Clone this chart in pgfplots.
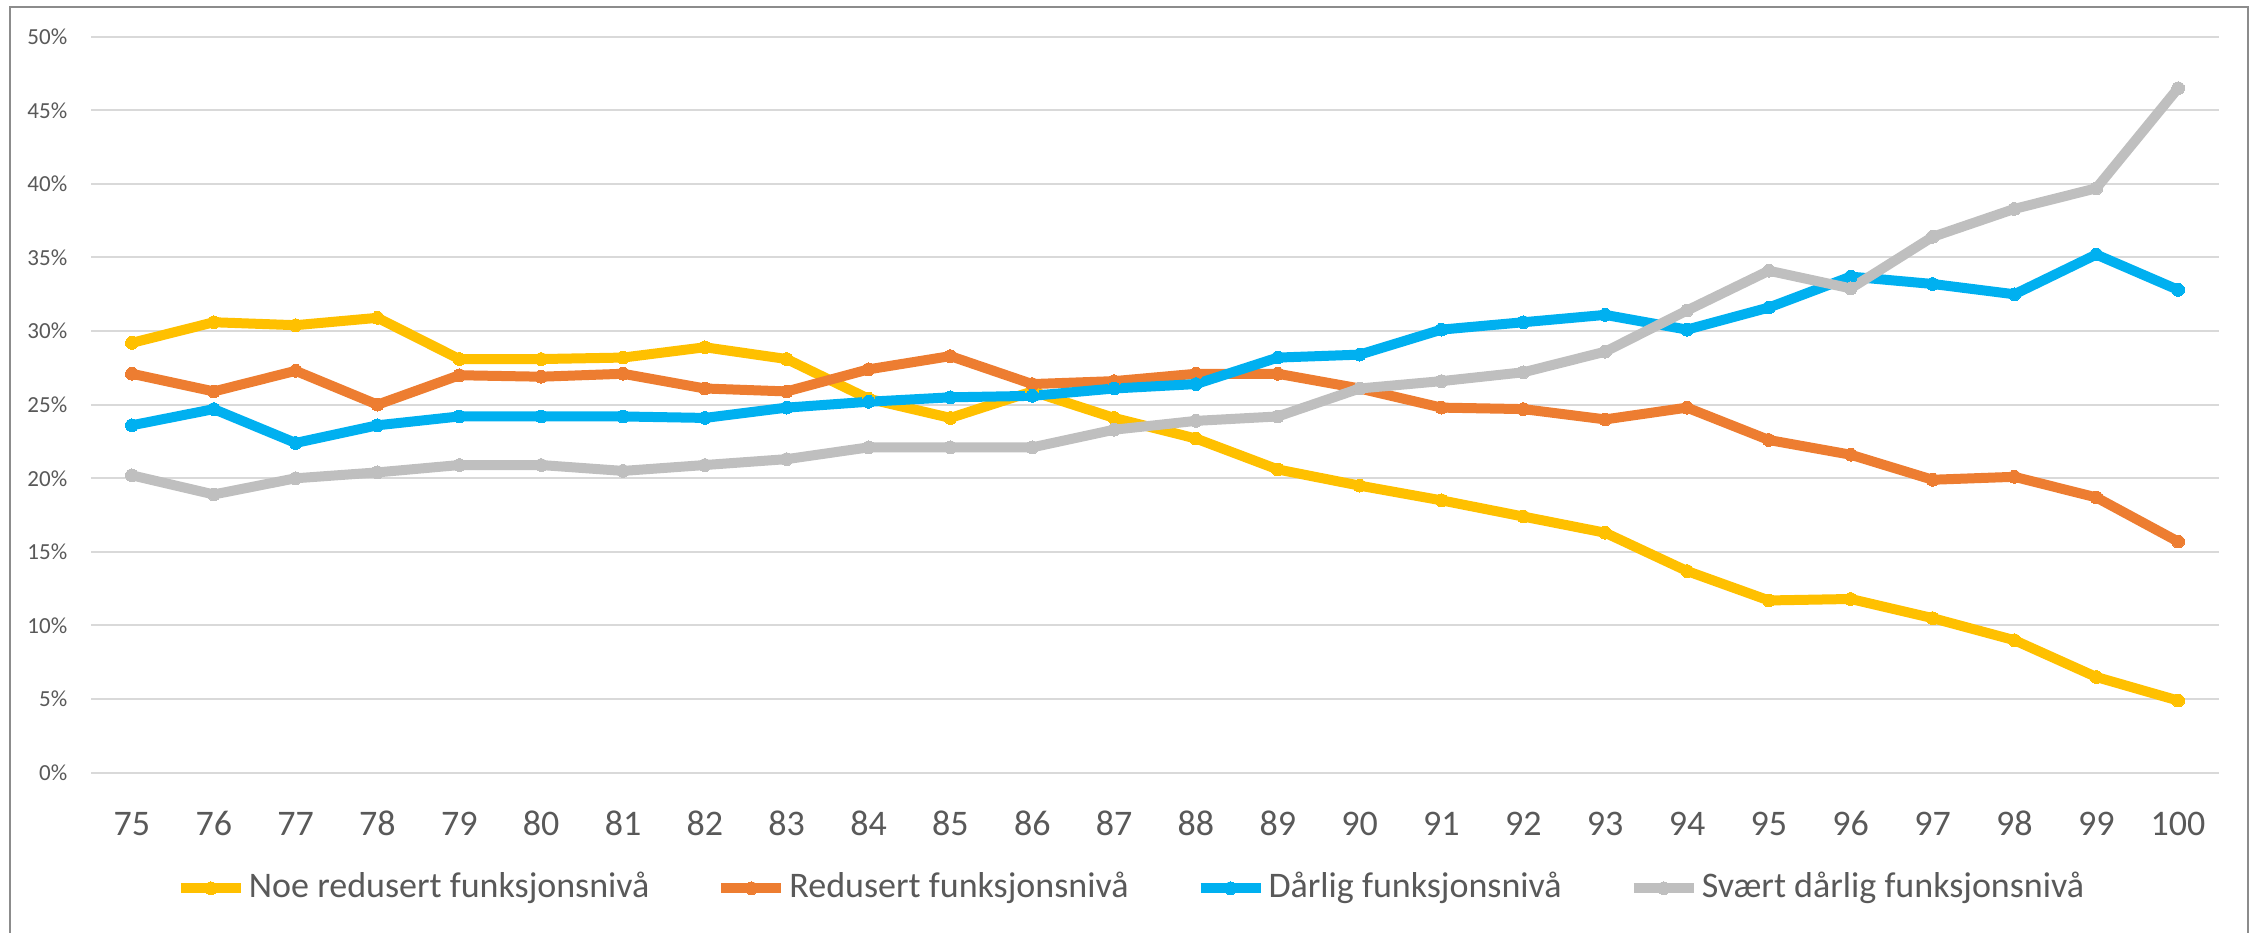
\documentclass[border=0pt]{standalone}
\usepackage{fontspec}
\setmainfont{Carlito}
\usepackage{pgfplots}
\usepackage{pgfplotstable}
\pgfplotsset{compat=1.18}
\definecolor{cyel}{HTML}{FFC000}
\definecolor{cora}{HTML}{ED7D31}
\definecolor{cblu}{HTML}{00B0F0}
\definecolor{cgry}{HTML}{BFBFBF}
\definecolor{gridc}{HTML}{D9D9D9}
\definecolor{txt}{HTML}{595959}
\definecolor{framec}{HTML}{8C8C8C}
\pgfplotstableread{
age  noe   red   dar   svd
75   29.2  27.1  23.6  20.2
76   30.6  25.9  24.7  18.9
77   30.4  27.3  22.4  20.0
78   30.9  25.0  23.6  20.4
79   28.1  27.0  24.2  20.9
80   28.1  26.9  24.2  20.9
81   28.2  27.1  24.2  20.5
82   28.9  26.1  24.1  20.9
83   28.1  25.9  24.8  21.3
84   25.4  27.4  25.2  22.1
85   24.1  28.3  25.5  22.1
86   25.9  26.4  25.6  22.1
87   24.1  26.6  26.1  23.3
88   22.7  27.1  26.4  23.9
89   20.6  27.1  28.2  24.2
90   19.5  26.1  28.4  26.1
91   18.5  24.8  30.1  26.6
92   17.4  24.7  30.6  27.2
93   16.3  24.0  31.1  28.6
94   13.7  24.8  30.1  31.4
95   11.7  22.6  31.6  34.1
96   11.8  21.6  33.7  32.9
97   10.5  19.9  33.2  36.4
98   9.0   20.1  32.5  38.3
99   6.5   18.7  35.2  39.7
100  4.9   15.7  32.8  46.5
}\datatab
\begin{document}
\begin{tikzpicture}
\useasboundingbox (0,0) rectangle (563.5pt,233pt);
\draw[color=framec, line width=0.5pt] (2.5pt,-2pt) -- (2.5pt,231.25pt) -- (562pt,231.25pt) -- (562pt,-2pt);
\begin{axis}[
  at={(22.75pt,39.83pt)}, anchor=south west,
  scale only axis, width=532pt, height=184pt,
  xmin=74.5, xmax=100.5, ymin=0, ymax=50,
  axis line style={draw=none},
  major tick length=0pt,
  ymajorgrids, grid style={color=gridc, line width=0.5pt},
  xtick={75,...,100},
  ytick={0,5,...,50},
  yticklabels={0\%,5\%,10\%,15\%,20\%,25\%,30\%,35\%,40\%,45\%,50\%},
  /pgf/number format/assume math mode=true,
  xticklabel style={anchor=center, yshift=-12.75pt, inner sep=0pt, font=\fontsize{9}{10}\selectfont, text=txt},
  yticklabel style={anchor=east, xshift=-5.75pt, inner sep=0pt, font=\fontsize{5.75}{7}\selectfont, text=txt},
  clip=false,
  legend columns=4,
  legend style={at={(0.489,-0.157)}, anchor=center, draw=none, fill=none,
    font=\fontsize{9}{10}\selectfont, text=txt,
    nodes={inner sep=0.75pt},
    /tikz/every even column/.append style={column sep=16pt}},
  legend image code/.code={\draw[mark repeat=2,mark phase=2,#1] plot coordinates {(0pt,0pt) (7.5pt,0pt) (15pt,0pt)};},
  every axis plot/.append style={line width=2.5pt, line join=round, mark=*, mark size=1.6pt},
]
\addplot[color=cyel, mark options={fill=cyel, draw=cyel, line width=0pt}] table[x=age, y=noe] {\datatab};
\addlegendentry{Noe redusert funksjonsnivå}
\addplot[color=cora, mark options={fill=cora, draw=cora, line width=0pt}] table[x=age, y=red] {\datatab};
\addlegendentry{Redusert funksjonsnivå}
\addplot[color=cblu, mark options={fill=cblu, draw=cblu, line width=0pt}] table[x=age, y=dar] {\datatab};
\addlegendentry{Dårlig funksjonsnivå}
\addplot[color=cgry, mark options={fill=cgry, draw=cgry, line width=0pt}] table[x=age, y=svd] {\datatab};
\addlegendentry{Svært dårlig funksjonsnivå}
\end{axis}
\end{tikzpicture}
\end{document}
